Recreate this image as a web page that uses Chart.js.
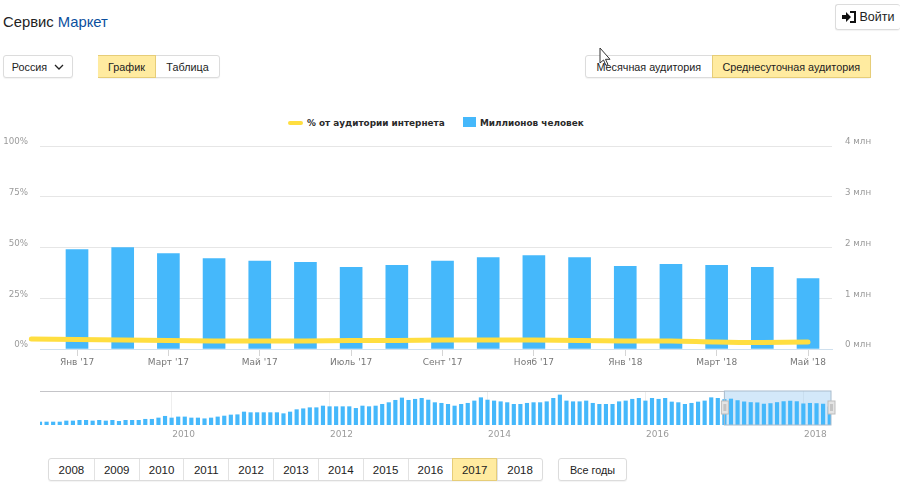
<!DOCTYPE html>
<html lang="ru">
<head>
<meta charset="utf-8">
<title>Сервис Маркет</title>
<script src="https://cdn.jsdelivr.net/npm/chart.js@4"></script>
<style>
    html, body { margin: 0; padding: 0; background: #fff; width: 900px; height: 489px; overflow: hidden; }
    body { position: relative; font-family: "Liberation Sans", Arial, sans-serif; color: #222; }
    canvas { position: absolute; left: 0; }
    #mainChart { top: 130px; }
    #navChart { top: 385px; }
    .title { position: absolute; left: 3px; top: 13px; font-size: 14.8px; line-height: 18px; color: #222; }
    .title span { color: #0b4f9e; }
    .group { position: absolute; display: flex; height: 23px; box-sizing: border-box; border: 1px solid #dcdcdc; border-radius: 3px; background: #fff; font-size: 10.8px; box-shadow: 0 1px 1px rgba(0,0,0,.05); }
    .group div { display: flex; align-items: center; justify-content: center; box-sizing: border-box; border-left: 1px solid #e2e2e2; }
    .group div:first-child { border-left: 0; }
    .group .on { background: #ffeba0; border: 1px solid #e6cd78; margin: -1px 0; height: 23px; }
    .legend { position: absolute; top: 116px; font: bold 8.9px "DejaVu Sans", sans-serif; color: #2a2a2a; line-height: 14px; white-space: nowrap; }
    .swatch { position: absolute; }
</style>
</head>
<body>
<div class="title">Сервис <span>Маркет</span></div>

<div class="group" style="left:835px;top:4px;width:65px;height:26px;font-size:12.5px;border-right:0;">
    <div style="width:100%;gap:3px;">
        <svg width="15" height="14" viewBox="0 0 15 14"><path d="M8 1h6v12H8v-2h4V3H8z" fill="#111"/><path d="M0 5h4V2l5 5-5 5V9H0z" fill="#111"/></svg>
        Войти
    </div>
</div>
<div class="group" style="left:3px;top:55px;width:70px;">
    <div style="width:100%;gap:7px;">Россия
        <svg width="10" height="6" viewBox="0 0 10 6"><path d="M1 1l4 4 4-4" fill="none" stroke="#222" stroke-width="1.3"/></svg>
    </div>
</div>
<div class="group" style="left:98px;top:55px;width:122px;">
    <div class="on" style="width:59px;margin-left:-1px;">График</div>
    <div style="width:64px;border-left:0;">Таблица</div>
</div>
<div class="group" style="left:585px;top:55px;width:286px;">
    <div style="width:126px;">Месячная аудитория</div>
    <div class="on" style="width:160px;margin-right:-1px;">Среднесуточная аудитория</div>
</div>

<div class="swatch" style="left:288px;top:121px;width:15px;height:4px;border-radius:2px;background:#ffde40;"></div>
<div class="legend" style="left:307px;">% от аудитории интернета</div>
<div class="swatch" style="left:463px;top:117px;width:13px;height:10px;background:#45b8fb;"></div>
<div class="legend" style="left:480px;">Миллионов человек</div>

<canvas id="mainChart" width="900" height="250"></canvas>
<canvas id="navChart" width="900" height="62"></canvas>

<div class="group" id="yearGroup" style="left:48px;top:458px;width:495px;font-size:11.5px;"></div>
<div class="group" style="left:558px;top:458px;width:69px;"><div style="width:100%;">Все годы</div></div>

<svg style="position:absolute;left:599px;top:47px;" width="13" height="20" viewBox="0 0 13 20">
    <path d="M1 1v15l3.5-3 2.5 5.5 2-1-2.5-5.2H11z" fill="#fff" stroke="#333" stroke-width="1"/>
</svg>

<script>
// Values
const monthLabels = ["Янв '17", "Февр '17", "Март '17", "Апр '17", "Май '17", "Июнь '17", "Июль '17", "Авг '17", "Сент '17",
    "Окт '17", "Нояб '17", "Дек '17", "Янв '18", "Февр '18", "Март '18", "Апр '18", "Май '18"];
const audienceMillions = [1.96, 2.0, 1.88, 1.78, 1.73, 1.71, 1.61, 1.65, 1.73, 1.8, 1.84, 1.8, 1.63, 1.67, 1.65, 1.61, 1.39];
// starts one month before the first bar, that is why the line runs past the axis
const internetShare = [4.9, 4.7, 4.4, 4.2, 3.9, 3.9, 3.9, 4.2, 4.2, 4.4, 4.4, 4.4, 4.2, 3.9, 3.9, 3.4, 3.2, 3.4];
const leftTicks = [0, 25, 50, 75, 100];
const rightTicks = [0, 1, 2, 3, 4];

// May 2008 - Dec 2016, the navigator then carries on with audienceMillions
const historyMillions = [
    0.23, 0.23, 0.23, 0.23, 0.31, 0.31, 0.36, 0.36, 0.31, 0.36, 0.31, 0.36, 0.28, 0.36, 0.36, 0.36, 0.44, 0.44, 0.54, 0.67,
    0.54, 0.62, 0.62, 0.54, 0.54, 0.48, 0.54, 0.62, 0.69, 0.77, 0.79, 1.0, 0.95, 0.95, 0.95, 0.95, 0.95, 0.87, 1.0, 1.18,
    1.25, 1.33, 1.33, 1.46, 1.41, 1.41, 1.41, 1.41, 1.28, 1.46, 1.41, 1.46, 1.59, 1.72, 1.9, 2.08, 1.9, 1.98, 2.05, 1.92,
    1.72, 1.67, 1.59, 1.46, 1.59, 1.67, 1.85, 2.1, 1.92, 1.85, 1.79, 1.72, 1.59, 1.59, 1.67, 1.72, 1.72, 1.79, 2.05, 2.31,
    1.85, 1.79, 1.79, 1.85, 1.67, 1.59, 1.59, 1.59, 1.79, 1.85, 1.98, 2.05, 1.85, 2.05, 1.98, 2.05, 1.77, 1.72, 1.59, 1.67,
    1.77, 1.85, 2.1, 2.05
];
const navYears = ['2010', '2012', '2014', '2016', '2018'];
const navYearIndex = [20, 44, 68, 92, 116];
const yearButtons = ['2008', '2009', '2010', '2011', '2012', '2013', '2014', '2015', '2016', '2017', '2018'];
const activeYear = '2017';

const BAR_COLOR = '#45b8fb';
const LINE_COLOR = '#ffde40';
const TICK_COLOR = '#9b9b9b';
const AXIS_FONT = { family: '"DejaVu Sans", sans-serif', size: 8.7 };
const MONTH_FONT = { family: '"DejaVu Sans", sans-serif', size: 9 };

Chart.defaults.animation = false;

// Year buttons
const yearGroup = document.getElementById('yearGroup');
yearButtons.forEach(year => {
    const el = document.createElement('div');
    el.textContent = year;
    el.style.width = '45px';
    if (year === activeYear) el.className = 'on';
    yearGroup.appendChild(el);
});

// Fixed axis width, and no extra room reserved for the tick labels
function fitSideAxis(axis, width) {
    axis.width = width;
    axis.paddingTop = 0;
    axis.paddingBottom = 0;
}

// Main chart
new Chart(document.getElementById('mainChart'), {
    type: 'bar',
    data: {
        datasets: [{
            type: 'line',
            label: '% от аудитории интернета',
            data: internetShare.map((value, i) => ({ x: i - 1, y: value })),
            yAxisID: 'yShare',
            borderColor: LINE_COLOR,
            borderWidth: 5,
            borderCapStyle: 'round',
            pointRadius: 0,
            tension: 0.3,
            clip: false,
            order: 0
        }, {
            label: 'Миллионов человек',
            data: audienceMillions.map((value, i) => ({ x: i, y: value })),
            yAxisID: 'yPeople',
            backgroundColor: BAR_COLOR,
            barThickness: 22,
            order: 1
        }]
    },
    options: {
        responsive: false,
        devicePixelRatio: 1,
        layout: { padding: { top: 16, left: 0, right: 0, bottom: 0 } },
        plugins: { legend: { display: false }, tooltip: { enabled: false } },
        scales: {
            x: {
                type: 'linear',
                offset: false,
                min: -0.81,
                max: 16.525,
                afterBuildTicks: axis => {
                    axis.ticks = monthLabels.map((_, i) => ({ value: i })).filter(t => t.value % 2 === 0);
                },
                afterFit: axis => { axis.height = 31; },
                ticks: {
                    color: '#777',
                    font: MONTH_FONT,
                    padding: 1,
                    maxRotation: 0,
                    autoSkip: false,
                    callback: value => monthLabels[value]
                },
                grid: { offset: false, drawOnChartArea: false, color: '#d5d5d5', tickLength: 7 },
                border: { color: '#cfe0ee' }
            },
            yShare: {
                position: 'left',
                min: 0,
                max: 100,
                afterBuildTicks: axis => { axis.ticks = leftTicks.map(value => ({ value })); },
                afterFit: axis => fitSideAxis(axis, 40),
                ticks: {
                    color: TICK_COLOR,
                    font: AXIS_FONT,
                    padding: 12,
                    labelOffset: -4,
                    callback: value => value + '%'
                },
                grid: { color: '#e6e6e6', drawTicks: false },
                border: { display: false }
            },
            yPeople: {
                position: 'right',
                min: 0,
                max: 4,
                afterBuildTicks: axis => { axis.ticks = rightTicks.map(value => ({ value })); },
                afterFit: axis => fitSideAxis(axis, 68),
                ticks: {
                    color: TICK_COLOR,
                    font: AXIS_FONT,
                    padding: 13,
                    labelOffset: -4,
                    callback: value => value + ' млн'
                },
                grid: { drawOnChartArea: false, drawTicks: false },
                border: { display: false }
            }
        }
    }
});

// Top border, selected range and drag handles of the navigator
const selectionPlugin = {
    id: 'selection',
    beforeDatasetsDraw(chart) {
        const { ctx, chartArea, scales } = chart;
        const from = scales.x.getPixelForValue(historyMillions.length);
        ctx.save();
        ctx.fillStyle = '#c4c4c8';
        ctx.fillRect(chartArea.left, chartArea.top, from - chartArea.left, 1);
        ctx.fillStyle = 'rgba(150, 200, 240, 0.42)';
        ctx.fillRect(from, chartArea.top, chartArea.right - from, chartArea.height);
        ctx.restore();
    },
    afterDatasetsDraw(chart) {
        const { ctx, chartArea, scales } = chart;
        const from = scales.x.getPixelForValue(historyMillions.length);
        const to = chartArea.right;
        ctx.save();
        ctx.strokeStyle = '#a9bccd';
        ctx.lineWidth = 1;
        ctx.strokeRect(from, chartArea.top, to - from, chartArea.height);
        [from, to].forEach(x => {
            ctx.fillStyle = '#e4e4e4';
            ctx.strokeStyle = '#bdbdbd';
            ctx.fillRect(x - 3, chartArea.top + 10, 7, 13);
            ctx.strokeRect(x - 3, chartArea.top + 10, 7, 13);
            ctx.fillStyle = '#c4c4c4';
            ctx.fillRect(x - 1, chartArea.top + 13, 3, 7);
        });
        ctx.restore();
    }
};

const navValues = historyMillions.concat(audienceMillions);

new Chart(document.getElementById('navChart'), {
    type: 'bar',
    plugins: [selectionPlugin],
    data: {
        datasets: [{
            label: 'Миллионов человек',
            data: navValues.map((value, i) => ({ x: i, y: value })),
            backgroundColor: BAR_COLOR,
            barThickness: 3.5
        }]
    },
    options: {
        responsive: false,
        devicePixelRatio: 1,
        layout: { padding: { top: 6, left: 40, right: 69, bottom: 0 } },
        plugins: { legend: { display: false }, tooltip: { enabled: false } },
        scales: {
            x: {
                type: 'linear',
                offset: false,
                min: 0,
                max: 120.2,
                afterBuildTicks: axis => { axis.ticks = navYearIndex.map(value => ({ value })); },
                afterFit: axis => { axis.height = 22; },
                ticks: {
                    color: TICK_COLOR,
                    font: MONTH_FONT,
                    padding: 4,
                    maxRotation: 0,
                    autoSkip: false,
                    labelOffset: 12,
                    callback: value => navYears[navYearIndex.indexOf(value)]
                },
                grid: { offset: false, color: '#eeeeee', drawTicks: false },
                border: { display: false }
            },
            y: {
                display: false,
                min: 0,
                max: 2.615
            }
        }
    }
});
</script>
</body>
</html>
